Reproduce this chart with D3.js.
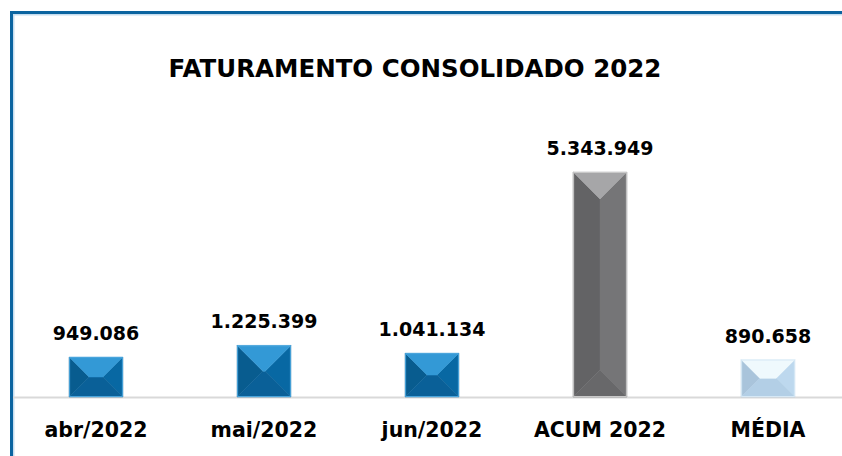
<!DOCTYPE html>
<html>
<head>
<meta charset="utf-8">
<script src="https://cdn.jsdelivr.net/npm/d3@7"></script>
<style>
  body { margin: 0; background: #fff; }
  text { font-family: "DejaVu Sans", sans-serif; font-weight: bold; fill: #000; }
</style>
</head>
<body>
<div id="chart"></div>
<script>
var categories = ["abr/2022", "mai/2022", "jun/2022", "ACUM 2022", "MÉDIA"];
var values = [949086, 1225399, 1041134, 5343949, 890658];
var kinds = ["blue", "blue", "blue", "gray", "light"];
var title = "FATURAMENTO CONSOLIDADO 2022";

var palette = {
    blue:  {top: "#3399d6", left: "#085c8f", right: "#0868a3", bottom: "#0a6098", edge: "#4aa5dc"},
    gray:  {top: "#a6a6a8", left: "#636365", right: "#757577", bottom: "#68686a", edge: "#c9c9c9"},
    light: {top: "#eff9fd", left: "#a9c4db", right: "#bdd8ee", bottom: "#b3cfe6", edge: "#d6e8f5"}
};

var W = 842, H = 456;
var baseY = 397;

var svg = d3.select("#chart").append("svg")
    .attr("width", W)
    .attr("height", H);

// frame
svg.append("rect").attr("x", 10).attr("y", 14).attr("width", W).attr("height", 1.5).attr("fill", "#c6ddef");
svg.append("rect").attr("x", 13).attr("y", 14).attr("width", 1.5).attr("height", H).attr("fill", "#c6ddef");
svg.append("rect").attr("x", 10).attr("y", 11).attr("width", W).attr("height", 3).attr("fill", "#0b64a0");
svg.append("rect").attr("x", 10).attr("y", 11).attr("width", 3).attr("height", H).attr("fill", "#0b64a0");

svg.append("text")
    .attr("x", 415)
    .attr("y", 77)
    .attr("text-anchor", "middle")
    .style("font-size", "24.5px")
    .text(title);

var x = d3.scaleBand()
    .domain(categories)
    .range([12, 852])
    .paddingInner(0.68)
    .paddingOuter(0.34);

var y = d3.scaleLinear()
    .domain([0, 5343949])
    .range([baseY, 172]);

// baseline
svg.append("line")
    .attr("x1", 13).attr("x2", W)
    .attr("y1", baseY + 0.5).attr("y2", baseY + 0.5)
    .attr("stroke", "#d9d9d9")
    .attr("stroke-width", 2);

var data = categories.map(function (c, i) {
    return {cat: c, val: values[i], kind: kinds[i]};
});

function facets(d) {
    var x0 = x(d.cat), x1 = x0 + x.bandwidth();
    var yT = y(d.val), yB = y(0);
    var k = Math.min((x1 - x0) / 2, (yB - yT) / 2);
    return [
        {f: "left",   p: [[x0, yT], [x0 + k, yT + k], [x0 + k, yB - k], [x0, yB]]},
        {f: "right",  p: [[x1, yT], [x1 - k, yT + k], [x1 - k, yB - k], [x1, yB]]},
        {f: "bottom", p: [[x0, yB], [x1, yB], [x1 - k, yB - k], [x0 + k, yB - k]]},
        {f: "top",    p: [[x0, yT], [x1, yT], [x1 - k, yT + k], [x0 + k, yT + k]]}
    ];
}

var bars = svg.selectAll(".bar")
    .data(data)
    .enter()
    .append("g")
    .attr("class", "bar");

bars.selectAll("path")
    .data(function (d) {
        return facets(d).map(function (f) { return {f: f.f, p: f.p, kind: d.kind}; });
    })
    .enter()
    .append("path")
    .attr("d", function (f) { return "M" + f.p.join("L") + "Z"; })
    .attr("fill", function (f) { return palette[f.kind][f.f]; })
    .attr("stroke", function (f) { return palette[f.kind][f.f]; })
    .attr("stroke-width", 0.5);

bars.append("rect")
    .attr("x", function (d) { return x(d.cat) + 0.5; })
    .attr("y", function (d) { return y(d.val) + 0.5; })
    .attr("width", x.bandwidth() - 1)
    .attr("height", function (d) { return y(0) - y(d.val) - 1; })
    .attr("fill", "none")
    .attr("stroke", function (d) { return palette[d.kind].edge; })
    .attr("stroke-width", 1);

var fmt = d3.formatLocale({decimal: ",", thousands: ".", grouping: [3], currency: ["", ""]}).format(",.0f");

svg.selectAll(".val")
    .data(data)
    .enter()
    .append("text")
    .attr("class", "val")
    .attr("x", function (d) { return x(d.cat) + x.bandwidth() / 2; })
    .attr("y", function (d) { return y(d.val) - 17; })
    .attr("text-anchor", "middle")
    .style("font-size", "19px")
    .text(function (d) { return fmt(d.val); });

svg.selectAll(".cat")
    .data(data)
    .enter()
    .append("text")
    .attr("class", "cat")
    .attr("x", function (d) { return x(d.cat) + x.bandwidth() / 2; })
    .attr("y", 437)
    .attr("text-anchor", "middle")
    .style("font-size", "20.5px")
    .text(function (d) { return d.cat; });
</script>
</body>
</html>
